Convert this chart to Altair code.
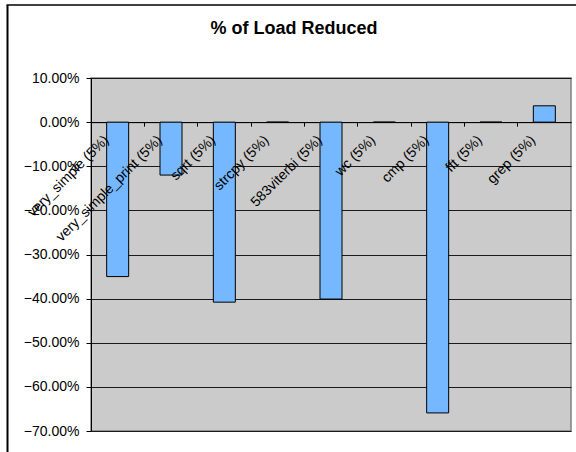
import math

import altair as alt
import pandas as pd

# Benchmarks (x categories) and the share of load reduced for each
benchmarks = [
    "very_simple (5%)",
    "very_simple_print (5%)",
    "sqrt (5%)",
    "strcpy (5%)",
    "583viterbi (5%)",
    "wc (5%)",
    "cmp (5%)",
    "fft (5%)",
    "grep (5%)",
]
load_reduced = [-0.35, -0.12, -0.408, 0.0, -0.401, 0.0, -0.659, 0.0, 0.037]
y_ticks = [0.1, 0.0, -0.1, -0.2, -0.3, -0.4, -0.5, -0.6, -0.7]
chart_title = "% of Load Reduced"

df = pd.DataFrame({"bench": benchmarks, "value": load_reduced})
title_df = pd.DataFrame({"t": [chart_title]})

FONT = "Liberation Sans, Arial"
PLOT_W, PLOT_H = 480, 353
PAD_L, PAD_T = 91, 78
Y_MIN, Y_MAX = -0.7, 0.1
ZERO_PX = PLOT_H * (Y_MAX - 0) / (Y_MAX - Y_MIN)  # pixel row of the zero line

# Category labels sit just below the zero line, rotated 45 degrees;
# text dx/dy act in the rotated frame, so convert a screen offset.
LABEL_ANGLE = 315
off_x, off_y = -11, 16
c = math.cos(math.radians(-45))
label_dx = off_x * c - off_y * c
label_dy = off_x * c + off_y * c

x_enc = alt.X(
    "bench:N",
    sort=None,
    scale=alt.Scale(paddingInner=0, paddingOuter=0),
    axis=alt.Axis(
        title=None,
        labels=False,
        grid=False,
        domainColor="black",
        domainWidth=1,
        tickColor="black",
        tickSize=4,
        bandPosition=0,
        offset=-(PLOT_H - ZERO_PX),  # category axis runs along the zero line
    ),
)
y_scale = alt.Scale(domain=[Y_MIN, Y_MAX], nice=False, zero=False)

bars = (
    alt.Chart(df)
    .mark_bar(size=22, color="#75B8FF", stroke="black", strokeWidth=1)
    .encode(
        x=x_enc,
        y=alt.Y(
            "value:Q",
            scale=y_scale,
            axis=alt.Axis(
                title=None,
                values=y_ticks,
                format=".2%",
                grid=True,
                gridColor="#1a1a1a",
                gridWidth=1,
                domainColor="black",
                tickColor="black",
                tickSize=5,
                labelPadding=7,
                labelFont=FONT,
                labelFontSize=14,
                labelColor="black",
            ),
        ),
    )
)

labels = (
    alt.Chart(df)
    .mark_text(
        angle=LABEL_ANGLE,
        align="right",
        baseline="middle",
        font=FONT,
        fontSize=14,
        color="black",
        dx=label_dx,
        dy=label_dy,
    )
    .encode(
        x=alt.X("bench:N", sort=None),
        y=alt.datum(0),
        text="bench:N",
    )
)

title = (
    alt.Chart(title_df)
    .mark_text(
        font=FONT,
        fontSize=18,
        fontWeight="bold",
        color="black",
        align="center",
        baseline="alphabetic",
    )
    .encode(x=alt.value(203), y=alt.value(-44), text="t:N")
)

# outer chart frame (left and top edges)
frame_left = alt.Chart(title_df).mark_rule(color="black", strokeWidth=2).encode(
    x=alt.value(-83.5), y=alt.value(-73), y2=alt.value(PLOT_H + 30)
)
frame_top = alt.Chart(title_df).mark_rule(color="black", strokeWidth=1.5).encode(
    x=alt.value(-84.5), x2=alt.value(PLOT_W + 10), y=alt.value(-73)
)

chart = (
    alt.layer(bars, labels, title, frame_left, frame_top)
    .properties(
        width=PLOT_W,
        height=PLOT_H,
        autosize=alt.AutoSizeParams(type="none"),
        padding={"left": PAD_L, "top": PAD_T, "right": 576 - PAD_L - PLOT_W, "bottom": 452 - PAD_T - PLOT_H},
        background="white",
    )
    .configure_view(fill="#CBCBCB", stroke="#808080", strokeWidth=1.5)
)

chart.save("out.html", embed_options={"renderer": "svg", "actions": False})
